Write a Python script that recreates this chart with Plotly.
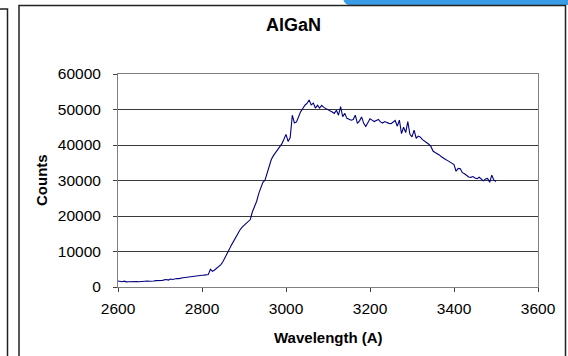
import plotly.graph_objects as go

# Spectrum: wavelength (A) and detector counts, sampled every 5 A
wavelength = list(range(2600, 3505, 5))

counts = [
    1700, 1600, 1500, 1650, 1450, 1500, 1550, 1450, 1500, 1550,   # 2600-2645
    1500, 1600, 1550, 1650, 1700, 1600, 1750, 1700, 1800, 1750,   # 2650-2695
    1900, 1850, 2000, 2100, 1950, 2250, 2100, 2300, 2400, 2350,   # 2700-2745
    2550, 2600, 2700, 2800, 2850, 2950, 3050, 3100, 3200, 3300,   # 2750-2795
    3300, 3350, 3400, 3500, 5000, 4400, 4800, 5300, 5600, 6300,   # 2800-2845
    7200, 8200, 9600, 10600, 11800, 12900, 13900, 15000, 16000, 16800,  # 2850-2895
    17400, 18000, 18400, 19000, 21200, 22600, 24100, 26300, 27900, 29500,  # 2900-2945
    30100, 31900, 34300, 35900, 37000, 37800, 38700, 39600, 40300, 41600,  # 2950-2995
    43000, 41000, 42100, 48400, 46200, 46500, 48000, 49400, 50300, 51200,  # 3000-3045
    51700, 52700, 51300, 51800, 50400, 51200, 50400, 51200, 50600, 50300,  # 3050-3095
    50100, 49700, 49300, 48900, 49800, 48400, 50800, 48000, 48900, 47500,  # 3100-3145
    47200, 47000, 47200, 48400, 46100, 46800, 47900, 46100, 45200, 46400,  # 3150-3195
    47400, 47000, 46600, 46900, 47200, 46500, 46200, 46600, 46300, 46100,  # 3200-3245
    46000, 46500, 46900, 45300, 47000, 43200, 45000, 43500, 46600, 43000,  # 3250-3295
    42300, 44200, 41900, 42500, 42200, 41500, 41100, 40500, 40200, 39600,  # 3300-3345
    38300, 37900, 37600, 37200, 36700, 36200, 35900, 35600, 35300, 34900,  # 3350-3395
    34500, 32600, 33400, 33300, 32200, 31900, 31500, 31000, 30900, 31100,  # 3400-3445
    30700, 30500, 30900, 30300, 29900, 30400, 30600, 29500, 31500, 30100,  # 3450-3495
    29700,                                                        # 3500
]

x_ticks = [2600, 2800, 3000, 3200, 3400, 3600]
y_ticks = [0, 10000, 20000, 30000, 40000, 50000, 60000]
y_tick_text = [str(v) for v in y_ticks]

W, H = 568, 356
ML, MR, MT, MB = 118, 30, 74, 69
PW, PH = W - ML - MR, H - MT - MB


def px(x):
    return (x - ML) / PW


def py(y):
    return (H - MB - y) / PH


FONT = "Arial, Liberation Sans, sans-serif"

fig = go.Figure()
fig.add_trace(go.Scatter(
    x=wavelength, y=counts, mode="lines",
    line=dict(color="#000080", width=1.1),
    showlegend=False, hoverinfo="x+y",
))

axis_common = dict(
    showline=True, linecolor="#808080", linewidth=1,
    mirror=True, ticks="outside", ticklen=4, tickcolor="#404040",
    tickfont=dict(family=FONT, size=15.5, color="#000"),
    zeroline=False, fixedrange=True,
)

fig.update_xaxes(range=[2600, 3600], tickvals=x_ticks, showgrid=False,
                 ticklabelstandoff=3, **axis_common)
fig.update_yaxes(range=[0, 60000], tickvals=y_ticks, ticktext=y_tick_text,
                 showgrid=True, gridcolor="#3a3a3a", gridwidth=1,
                 ticklabelstandoff=9, **axis_common)

shapes = [
    # strip of the neighbouring panel header
    dict(type="path", xref="paper", yref="paper",
         path=f"M {px(343)} {py(-2)} Q {px(344)} {py(5)} {px(350)} {py(5)} "
              f"L {px(570)} {py(5)} L {px(570)} {py(-2)} Z",
         fillcolor="#3a9be6", line=dict(width=0), layer="above"),
    # neighbouring chart frame on the left
    dict(type="path", xref="paper", yref="paper",
         path=f"M {px(-2)} {py(9)} L {px(7.5)} {py(9)} L {px(7.5)} {py(370)}",
         line=dict(color="#222", width=1.5), layer="above"),
    # chart frame
    dict(type="rect", xref="paper", yref="paper",
         x0=px(19), x1=px(565.5), y0=py(372), y1=py(5.5),
         line=dict(color="#222", width=1.5), layer="above"),
]

annotations = [
    dict(text="<b>AlGaN</b>", xref="paper", yref="paper",
         x=px(293), y=py(25.5), xanchor="center", yanchor="middle",
         showarrow=False, font=dict(family=FONT, size=18, color="#000")),
    dict(text="<b>Counts</b>", xref="paper", yref="paper",
         x=px(41.5), y=0.5, xanchor="center", yanchor="middle", textangle=-90,
         showarrow=False, font=dict(family=FONT, size=15, color="#000")),
    dict(text="<b>Wavelength (A)</b>", xref="paper", yref="paper",
         x=0.5, y=py(337.5), xanchor="center", yanchor="middle",
         showarrow=False, font=dict(family=FONT, size=15, color="#000")),
]

fig.update_layout(
    width=W, height=H,
    margin=dict(l=ML, r=MR, t=MT, b=MB, pad=0),
    paper_bgcolor="white", plot_bgcolor="white",
    shapes=shapes, annotations=annotations,
    font=dict(family=FONT),
)

fig.write_html("out.html", config={"displayModeBar": False})
